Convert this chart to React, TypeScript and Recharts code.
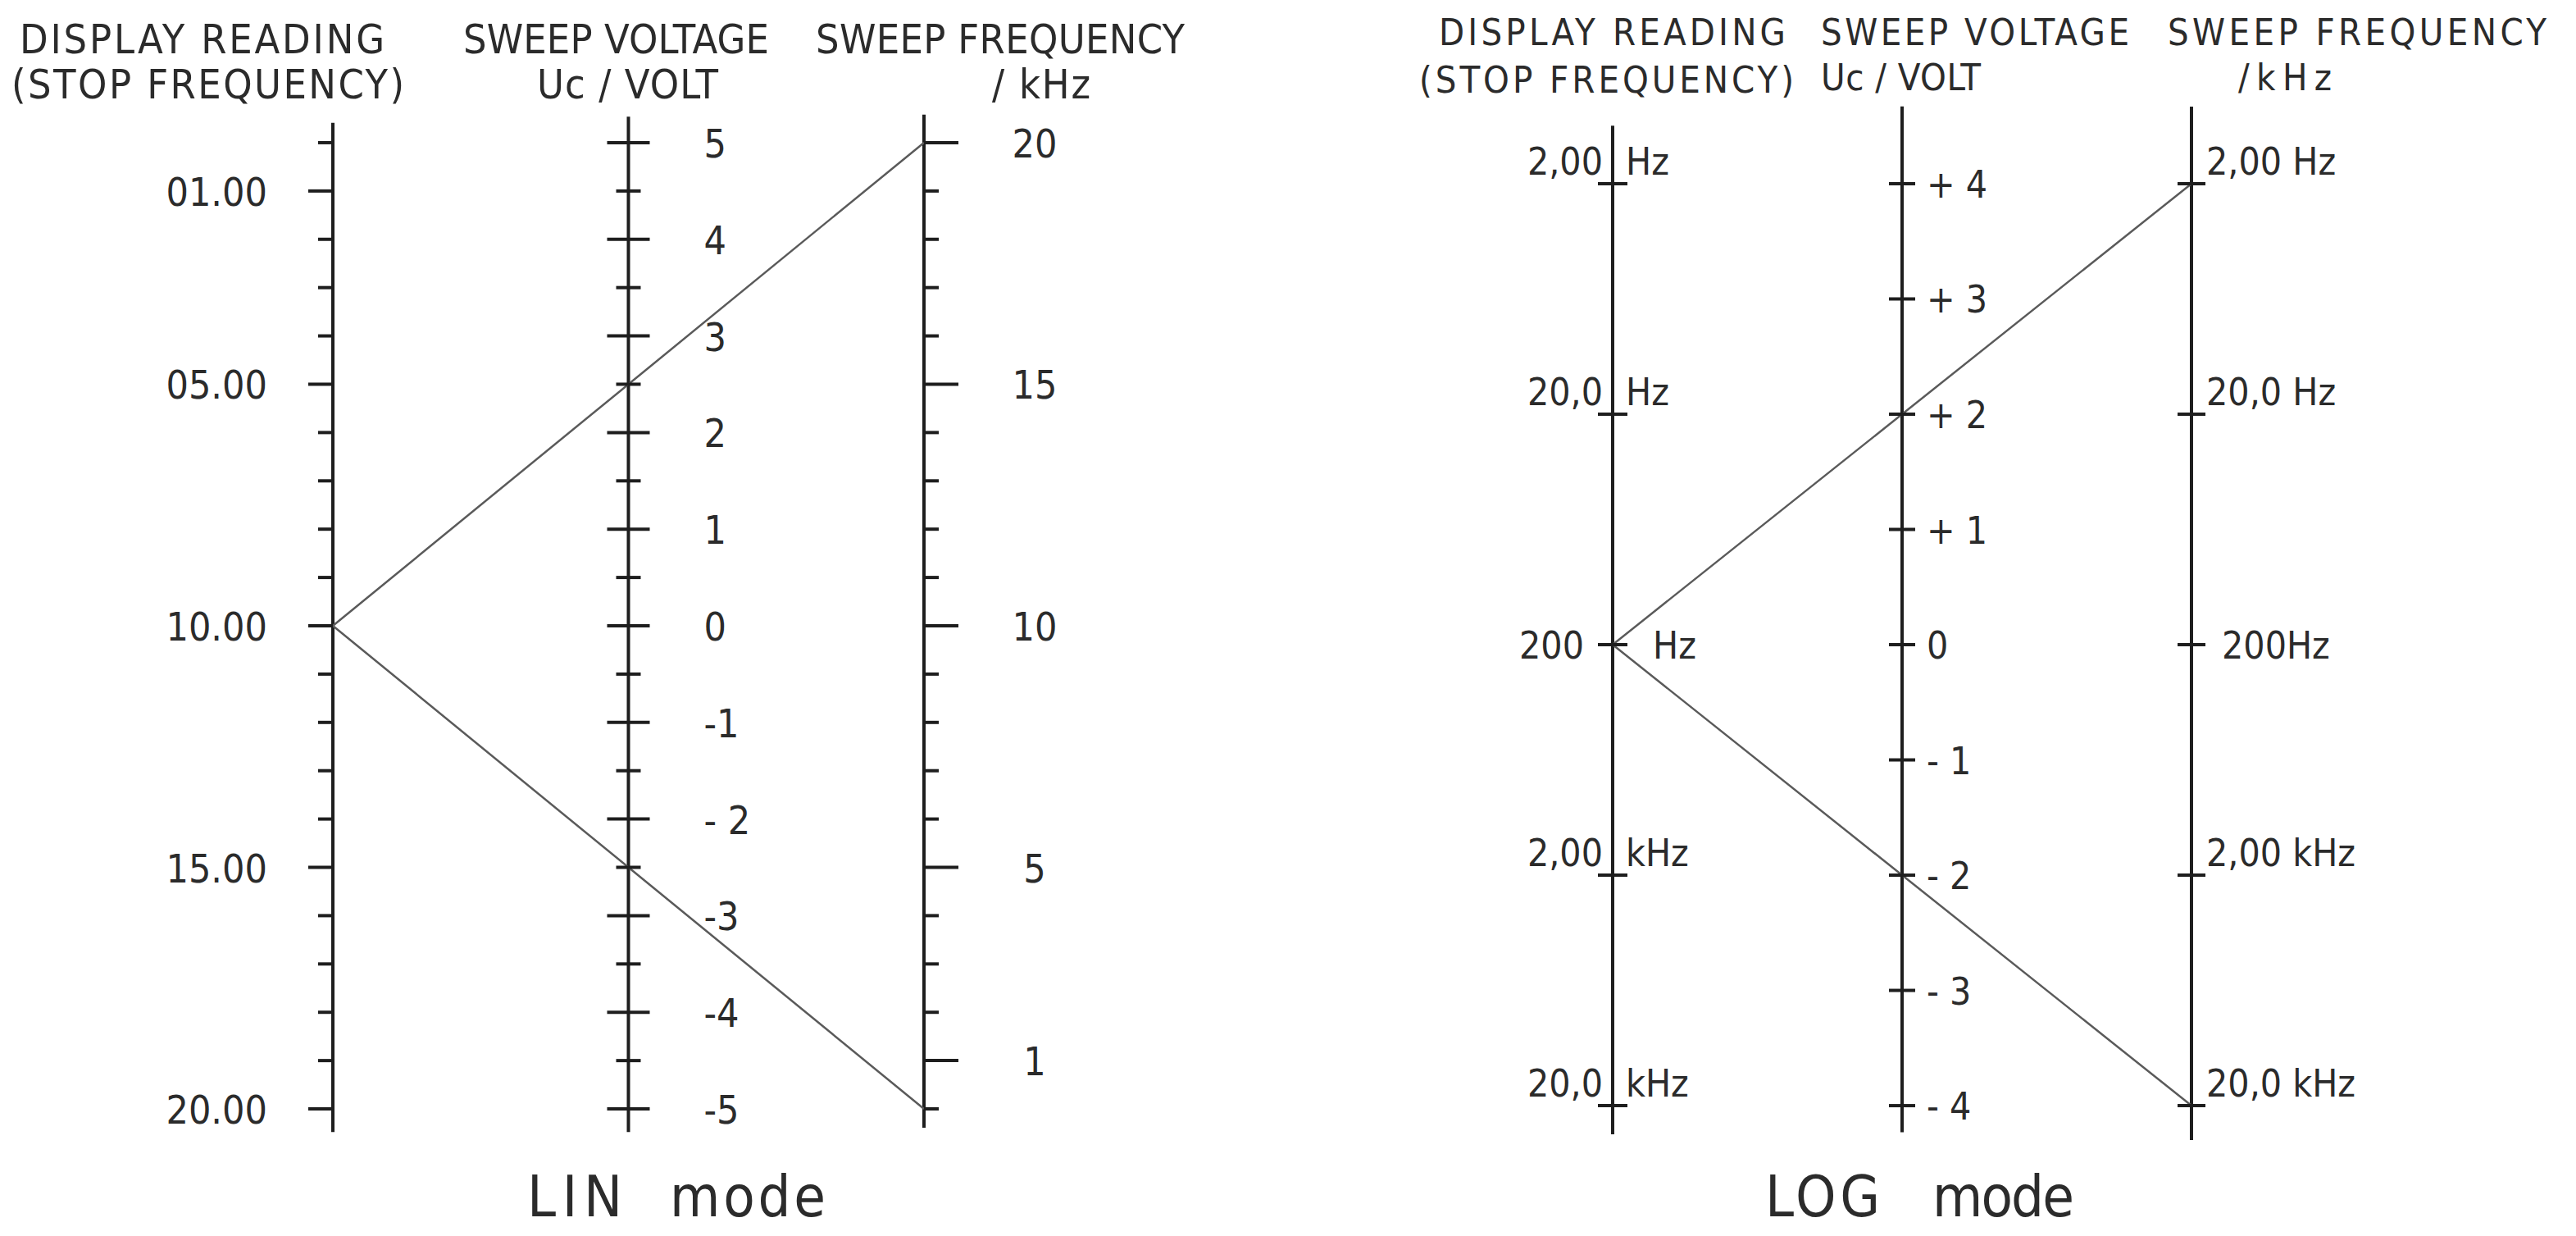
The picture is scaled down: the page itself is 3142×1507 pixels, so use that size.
import React from 'react';
import { ScatterChart, Scatter, XAxis, YAxis } from 'recharts';

const FONT = '"DejaVu Sans Condensed", "Liberation Sans Narrow", "DejaVu Sans", sans-serif';
const TEXT = '#2b2b2b';
const INK = '#1e1e1e';

// ---------- LIN mode ----------
const LIN_READING_TICKS = [0, 1, 2, 3, 4, 5, 6, 7, 8, 9, 10, 11, 12, 13, 14, 15, 16, 17, 18, 19, 20];
const LIN_READING_LABELS: Record<string, string> = { '1': '01.00', '5': '05.00', '10': '10.00', '15': '15.00', '20': '20.00' };
const LIN_VOLT_TICKS = [5, 4.5, 4, 3.5, 3, 2.5, 2, 1.5, 1, 0.5, 0, -0.5, -1, -1.5, -2, -2.5, -3, -3.5, -4, -4.5, -5];
const LIN_VOLT_LABELS: Record<string, string> = {
  '5': '5', '4': '4', '3': '3', '2': '2', '1': '1', '0': '0',
  '-1': '-1', '-2': '- 2', '-3': '-3', '-4': '-4', '-5': '-5',
};
const LIN_FREQ_TICKS = [20, 19, 18, 17, 16, 15, 14, 13, 12, 11, 10, 9, 8, 7, 6, 5, 4, 3, 2, 1, 0];
const LIN_FREQ_LABELS: Record<string, string> = { '20': '20', '15': '15', '10': '10', '5': '5', '1': '1' };
const LIN_READING_RANGE = [-0.41, 20.48];
const LIN_VOLT_RANGE = [5.27, -5.24];
const LIN_FREQ_RANGE = [20.58, -0.39];
// index lines, in volts at columns 0 / 1 / 2
const LIN_INDEX_LINES = [
  [0, 2.5, 5],
  [0, -2.5, -5],
];
const LIN_VOLT_DOMAIN = [-5.577, 5.458];
const LIN_READING_DOMAIN = [-0.916, 21.154];
const LIN_FREQ_DOMAIN = [-1.154, 20.916];

// ---------- LOG mode ----------
const LOG_FREQ_TICKS = [2, 20, 200, 2000, 20000];
const LOG_CENTER_FREQ = 200;
const LOG_READING_NUMS: Record<string, string> = { '2': '2,00', '20': '20,0', '200': '200', '2000': '2,00', '20000': '20,0' };
const LOG_READING_UNITS: Record<string, string> = { '2': 'Hz', '20': 'Hz', '200': 'Hz', '2000': 'kHz', '20000': 'kHz' };
const LOG_FREQ_LABELS: Record<string, string> = { '2': '2,00 Hz', '20': '20,0 Hz', '200': '200Hz', '2000': '2,00 kHz', '20000': '20,0 kHz' };
const LOG_VOLT_TICKS = [4, 3, 2, 1, 0, -1, -2, -3, -4];
const LOG_VOLT_LABELS: Record<string, string> = {
  '4': '+ 4', '3': '+ 3', '2': '+ 2', '1': '+ 1', '0': '0',
  '-1': '- 1', '-2': '- 2', '-3': '- 3', '-4': '- 4',
};
const LOG_READING_RANGE = [1.12, 26650];
const LOG_VOLT_RANGE = [4.67, -4.23];
const LOG_FREQ_RANGE = [0.926, 28200];
const LOG_INDEX_LINES = [
  [0, 2, 4],
  [0, -2, -4],
];
const LOG_VOLT_DOMAIN = [-4.512, 4.74];
const LOG_FREQ_DOMAIN = [0.8533, 36059];

const COLS = [0, 1, 2];

const tickStroke = { stroke: INK, strokeWidth: 4 };

const Txt = (p: any) => (
  <text
    x={p.x}
    y={p.y}
    textAnchor={p.anchor || 'start'}
    fontSize={p.size || 46}
    fontFamily={FONT}
    fill={TEXT}
    textLength={p.len}
    lengthAdjust={p.len ? 'spacing' : undefined}
  >
    {p.children}
  </text>
);

const empty = () => <g />;

// ---- LIN shapes
const linReadingShape = (props: any) => {
  const { cx, cy, payload } = props;
  const label = LIN_READING_LABELS[String(payload.y)];
  const len = label ? 30 : 18;
  return (
    <g>
      <line x1={cx - len} y1={cy} x2={cx} y2={cy} {...tickStroke} />
      {label && <Txt x={cx - 80} y={cy + 18} anchor="end" size={48}>{label}</Txt>}
    </g>
  );
};
const linVoltShape = (props: any) => {
  const { cx, cy, payload } = props;
  const label = LIN_VOLT_LABELS[String(payload.y)];
  const len = label ? 26 : 15;
  return (
    <g>
      <line x1={cx - len} y1={cy} x2={cx + len} y2={cy} {...tickStroke} />
      {label && <Txt x={cx + 92} y={cy + 18} size={48}>{label}</Txt>}
    </g>
  );
};
const linFreqShape = (props: any) => {
  const { cx, cy, payload } = props;
  const label = LIN_FREQ_LABELS[String(payload.y)];
  const len = label ? 42 : 18;
  return (
    <g>
      <line x1={cx} y1={cy} x2={cx + len} y2={cy} {...tickStroke} />
      {label && <Txt x={cx + 135} y={cy + 18} anchor="middle" size={48}>{label}</Txt>}
    </g>
  );
};

// ---- LOG shapes
const logReadingShape = (props: any) => {
  const { cx, cy, payload } = props;
  const key = String(payload.y);
  const center = payload.y === LOG_CENTER_FREQ;
  return (
    <g>
      <line x1={cx - 18} y1={cy} x2={cx + 18} y2={cy} {...tickStroke} />
      <Txt x={center ? cx - 35 : cx - 12} y={center ? cy + 17 : cy - 11} anchor="end">{LOG_READING_NUMS[key]}</Txt>
      <Txt x={center ? cx + 49 : cx + 16} y={center ? cy + 17 : cy - 11}>{LOG_READING_UNITS[key]}</Txt>
    </g>
  );
};
const logVoltShape = (props: any) => {
  const { cx, cy, payload } = props;
  return (
    <g>
      <line x1={cx - 16} y1={cy} x2={cx + 16} y2={cy} {...tickStroke} />
      <Txt x={cx + 30} y={cy + 17}>{LOG_VOLT_LABELS[String(payload.y)]}</Txt>
    </g>
  );
};
const logFreqShape = (props: any) => {
  const { cx, cy, payload } = props;
  const center = payload.y === LOG_CENTER_FREQ;
  return (
    <g>
      <line x1={cx - 17} y1={cy} x2={cx + 17} y2={cy} {...tickStroke} />
      <Txt x={center ? cx + 37 : cx + 18} y={center ? cy + 17 : cy - 11}>{LOG_FREQ_LABELS[String(payload.y)]}</Txt>
    </g>
  );
};

const axisLine = (col: number, range: number[]) => [
  { x: col, y: range[0] },
  { x: col, y: range[1] },
];
const ticksAt = (col: number, ticks: number[]) => ticks.map((v) => ({ x: col, y: v }));
const indexLine = (vals: number[]) => vals.map((v, i) => ({ x: COLS[i], y: v }));

const W = 1571;
const H = 1507;
const axisStyle = { stroke: INK, strokeWidth: 4 };
const indexStyle = { stroke: '#5a5a5a', strokeWidth: 2.5 };

function LinChart() {
  const off = 0;
  return (
    <ScatterChart width={W} height={H} margin={{ top: 120, bottom: 87, left: 406, right: 444 }}>
      <XAxis type="number" dataKey="x" domain={[0, 2]} hide />
      <YAxis yAxisId="v" type="number" dataKey="y" domain={LIN_VOLT_DOMAIN} hide />
      <YAxis yAxisId="r" type="number" dataKey="y" domain={LIN_READING_DOMAIN} reversed hide />
      <YAxis yAxisId="f" type="number" dataKey="y" domain={LIN_FREQ_DOMAIN} hide />

      <Scatter yAxisId="r" data={axisLine(0, LIN_READING_RANGE)} line={axisStyle} shape={empty} isAnimationActive={false} />
      <Scatter yAxisId="v" data={axisLine(1, LIN_VOLT_RANGE)} line={axisStyle} shape={empty} isAnimationActive={false} />
      <Scatter yAxisId="f" data={axisLine(2, LIN_FREQ_RANGE)} line={axisStyle} shape={empty} isAnimationActive={false} />

      {LIN_INDEX_LINES.map((l, i) => (
        <Scatter key={i} yAxisId="v" data={indexLine(l)} line={indexStyle} shape={empty} isAnimationActive={false} />
      ))}

      <Scatter yAxisId="r" data={ticksAt(0, LIN_READING_TICKS)} shape={linReadingShape} isAnimationActive={false} />
      <Scatter yAxisId="v" data={ticksAt(1, LIN_VOLT_TICKS)} shape={linVoltShape} isAnimationActive={false} />
      <Scatter yAxisId="f" data={ticksAt(2, LIN_FREQ_TICKS)} shape={linFreqShape} isAnimationActive={false} />

      <Txt x={24 - off} y={65} size={50} len={445}>DISPLAY READING</Txt>
      <Txt x={14 - off} y={120} size={50} len={479}>(STOP FREQUENCY)</Txt>
      <Txt x={565 - off} y={65} size={50} len={373}>SWEEP VOLTAGE</Txt>
      <Txt x={655 - off} y={120} size={50} len={221}>Uc / VOLT</Txt>
      <Txt x={995 - off} y={65} size={50} len={450}>SWEEP FREQUENCY</Txt>
      <Txt x={1210 - off} y={120} size={50} len={120}>/ kHz</Txt>
      <Txt x={643 - off} y={1483} size={70} len={116}>LIN</Txt>
      <Txt x={817 - off} y={1483} size={70} len={190}>mode</Txt>
    </ScatterChart>
  );
}

function LogChart() {
  const off = W;
  return (
    <ScatterChart width={W} height={H} margin={{ top: 120, bottom: 87, left: 396, right: 469 }}>
      <XAxis type="number" dataKey="x" domain={[0, 2]} hide />
      <YAxis yAxisId="v" type="number" dataKey="y" domain={LOG_VOLT_DOMAIN} hide />
      <YAxis yAxisId="f" type="number" dataKey="y" scale="log" domain={LOG_FREQ_DOMAIN} reversed hide />

      <Scatter yAxisId="f" data={axisLine(0, LOG_READING_RANGE)} line={axisStyle} shape={empty} isAnimationActive={false} />
      <Scatter yAxisId="v" data={axisLine(1, LOG_VOLT_RANGE)} line={axisStyle} shape={empty} isAnimationActive={false} />
      <Scatter yAxisId="f" data={axisLine(2, LOG_FREQ_RANGE)} line={axisStyle} shape={empty} isAnimationActive={false} />

      {LOG_INDEX_LINES.map((l, i) => (
        <Scatter key={i} yAxisId="v" data={indexLine(l)} line={indexStyle} shape={empty} isAnimationActive={false} />
      ))}

      <Scatter yAxisId="f" data={ticksAt(0, LOG_FREQ_TICKS)} shape={logReadingShape} isAnimationActive={false} />
      <Scatter yAxisId="v" data={ticksAt(1, LOG_VOLT_TICKS)} shape={logVoltShape} isAnimationActive={false} />
      <Scatter yAxisId="f" data={ticksAt(2, LOG_FREQ_TICKS)} shape={logFreqShape} isAnimationActive={false} />

      <Txt x={1755 - off} y={55} size={45} len={423}>DISPLAY READING</Txt>
      <Txt x={1731 - off} y={113} size={45} len={457}>(STOP FREQUENCY)</Txt>
      <Txt x={2221 - off} y={55} size={45} len={376}>SWEEP VOLTAGE</Txt>
      <Txt x={2221 - off} y={110} size={45} len={195}>Uc / VOLT</Txt>
      <Txt x={2644 - off} y={55} size={45} len={462}>SWEEP FREQUENCY</Txt>
      <Txt x={2730 - off} y={110} size={45} len={114}>/kHz</Txt>
      <Txt x={2153 - off} y={1483} size={70} len={140}>LOG</Txt>
      <Txt x={2357 - off} y={1483} size={70} len={173}>mode</Txt>
    </ScatterChart>
  );
}

export default function App() {
  return (
    <div
      style={{
        position: 'absolute',
        left: 0,
        top: 0,
        width: 3142,
        height: 1507,
        background: '#ffffff',
        display: 'flex',
        overflow: 'hidden',
      }}
    >
      <LinChart />
      <LogChart />
    </div>
  );
}
